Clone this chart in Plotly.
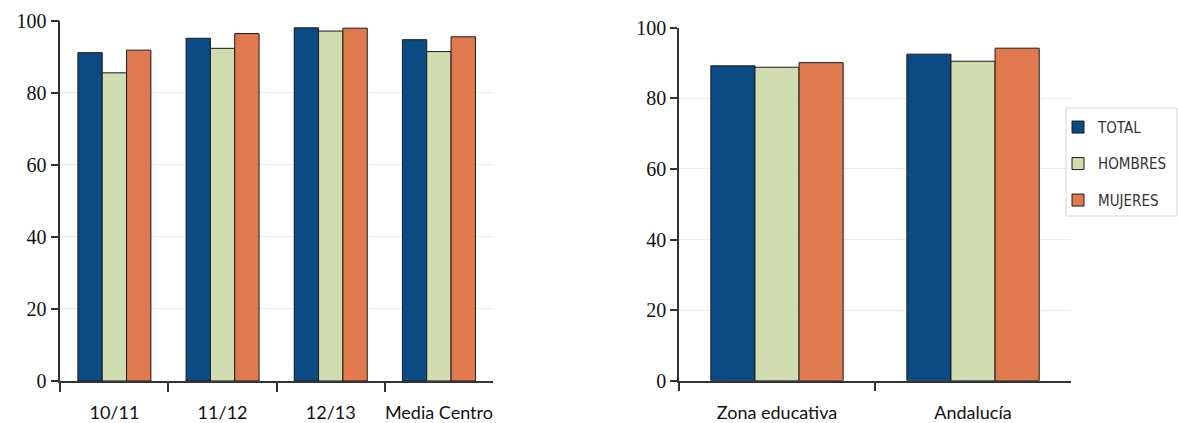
import plotly.graph_objects as go

# ---- data ----
left_categories = ["10/11", "11/12", "12/13", "Media Centro"]
left_total = [91.2, 95.2, 98.1, 94.8]
left_hombres = [85.6, 92.4, 97.2, 91.5]
left_mujeres = [91.9, 96.5, 98.0, 95.6]

right_categories = ["Zona educativa", "Andalucía"]
right_total = [89.2, 92.5]
right_hombres = [88.8, 90.5]
right_mujeres = [90.1, 94.2]

series_names = ["TOTAL", "HOMBRES", "MUJERES"]
y_ticks = [0, 20, 40, 60, 80, 100]

colors = ["#0B4A82", "#CFDDB1", "#E07A4E"]

fig = go.Figure()

left_vals = [left_total, left_hombres, left_mujeres]
right_vals = [right_total, right_hombres, right_mujeres]

for i, name in enumerate(series_names):
    fig.add_trace(go.Bar(
        x=left_categories, y=left_vals[i], name=name,
        marker=dict(color=colors[i], line=dict(color="#1a1a1a", width=1)),
        xaxis="x", yaxis="y", legendgroup=name, showlegend=False,
    ))
for i, name in enumerate(series_names):
    fig.add_trace(go.Bar(
        x=right_categories, y=right_vals[i], name=name,
        marker=dict(color=colors[i], line=dict(color="#1a1a1a", width=1)),
        xaxis="x2", yaxis="y2", legendgroup=name, showlegend=True,
    ))

xfont = dict(family="Lato, Open Sans, sans-serif", size=18, color="#111")
yfont = dict(family="Liberation Serif, DejaVu Serif, serif", size=20, color="#111")

common_x = dict(
    type="category", showline=True, linecolor="#333", linewidth=1.5,
    ticks="outside", tickson="boundaries", ticklen=9, tickcolor="#333",
    tickwidth=1.5, showgrid=False, tickfont=xfont, ticklabelstandoff=15,
    zeroline=False, tickangle=0, automargin=False,
)
common_y = dict(
    range=[0, 100], tickvals=y_ticks, showline=True, linecolor="#333",
    linewidth=1.5, ticks="outside", ticklen=8, tickcolor="#333", tickwidth=1.5,
    showgrid=True, gridcolor="#EDEDED", gridwidth=1, tickfont=yfont,
    zeroline=False, automargin=False,
)

fig.update_layout(
    width=1178, height=423,
    margin=dict(l=0, r=0, t=0, b=0),
    paper_bgcolor="white", plot_bgcolor="white",
    barmode="group", bargap=0.325, bargroupgap=0,
    xaxis=dict(domain=[0.0512, 0.4185], anchor="y", **common_x),
    yaxis=dict(domain=[0.0993, 0.9504], anchor="x", **common_y),
    xaxis2=dict(domain=[0.5764, 0.9092], anchor="y2", **common_x),
    yaxis2=dict(domain=[0.100, 0.9345], anchor="x2", **{**common_y, "ticklen": 7}),
    legend=dict(
        x=1058 / 1178, y=0.738, xanchor="left", yanchor="top",
        bgcolor="rgba(0,0,0,0)", borderwidth=0,
        font=dict(family="Liberation Sans Narrow, DejaVu Sans Condensed, sans-serif",
                  size=15, color="#333"),
        tracegroupgap=14, itemwidth=30,
    ),
    shapes=[dict(type="rect", xref="paper", yref="paper",
                 x0=1066 / 1178, x1=1177 / 1178, y0=(423 - 216) / 423, y1=(423 - 108) / 423,
                 line=dict(color="#D5D5D5", width=1), fillcolor="rgba(0,0,0,0)")],
)

fig.write_html(
    "out.html",
    config={"displayModeBar": False},
    post_script="document.body.style.margin='0';document.body.style.padding='0';",
)
